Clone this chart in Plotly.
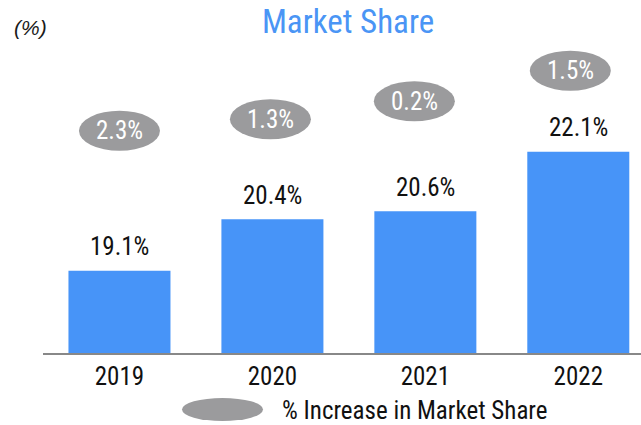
import plotly.graph_objects as go

# ---- data ----
years = ["2019", "2020", "2021", "2022"]
market_share = [19.1, 20.4, 20.6, 22.1]
share_increase = [2.3, 1.3, 0.2, 1.5]
value_labels = ["19.1%", "20.4%", "20.6%", "22.1%"]
increase_labels = ["2.3%", "1.3%", "0.2%", "1.5%"]

# ---- layout / style ----
W, H = 641, 425
ML, MR, MT, MB = 43, 0, 0, 72
BAR_COLOR = "#4794F8"
BUBBLE_COLOR = "#9B9B9D"
TITLE_COLOR = "#4A95F5"
NARROW = "Liberation Sans Narrow, Arial Narrow, Roboto Condensed, Liberation Sans, sans-serif"
# bubble placement relative to each bar top (pixels)
bubble_dx = [0, -2, -11, -8]
bubble_dy = [140, 100, 110, 81]
BW, BH = 81, 40
LABEL_SHIFT = 22

plot_w = W - ML - MR
plot_h = H - MT - MB


def px_to_paper(px, py):
    return (px - ML) / plot_w, (H - MB - py) / plot_h


fig = go.Figure()
fig.add_trace(go.Bar(
    x=list(range(len(years))), y=market_share, width=0.667,
    marker=dict(color=BAR_COLOR, line=dict(width=0)),
    showlegend=False, hoverinfo="skip",
))

annotations = []
shapes = []
for i, (v, vl, il) in enumerate(zip(market_share, value_labels, increase_labels)):
    annotations.append(dict(
        x=i, y=v, xref="x", yref="y", text=vl, showarrow=False,
        yanchor="middle", yshift=LABEL_SHIFT + 2,
        font=dict(family=NARROW, size=25, color="#111111"),
    ))
    shapes.append(dict(
        type="circle", xref="x", yref="y",
        xsizemode="pixel", ysizemode="pixel",
        xanchor=i, yanchor=v,
        x0=bubble_dx[i] - BW / 2, x1=bubble_dx[i] + BW / 2,
        y0=bubble_dy[i] - BH / 2, y1=bubble_dy[i] + BH / 2,
        fillcolor=BUBBLE_COLOR, line=dict(width=0), layer="above",
    ))
    annotations.append(dict(
        x=i, y=v, xref="x", yref="y", text=il, showarrow=False,
        xshift=bubble_dx[i], yshift=bubble_dy[i],
        yanchor="middle",
        font=dict(family=NARROW, size=25, color="white"),
    ))

# legend (manual, ellipse marker)
lx0, ly0 = px_to_paper(182, 421)
lx1, ly1 = px_to_paper(263, 398)
shapes.append(dict(type="circle", xref="paper", yref="paper",
                   x0=lx0, x1=lx1, y0=ly0, y1=ly1,
                   fillcolor=BUBBLE_COLOR, line=dict(width=0)))
tx, ty = px_to_paper(280, 410)
annotations.append(dict(x=tx, y=ty, xref="paper", yref="paper",
                        text="% Increase in Market Share", showarrow=False,
                        xanchor="left", yanchor="middle",
                        font=dict(family=NARROW, size=25, color="#111111")))
# unit label
ux, uy = px_to_paper(12, 28)
annotations.append(dict(x=ux, y=uy, xref="paper", yref="paper",
                        text="<i>(%)</i>", showarrow=False,
                        xanchor="left", yanchor="middle",
                        font=dict(family="Liberation Sans, Arial, sans-serif", size=21, color="#1a1a1a")))

fig.update_layout(
    width=W, height=H,
    margin=dict(l=ML, r=MR, t=MT, b=MB),
    paper_bgcolor="white", plot_bgcolor="white",
    title=dict(text="Market Share", x=348 / W, xanchor="center",
               y=1 - 21 / H, yanchor="middle", yref="container",
               font=dict(family=NARROW, size=33, color=TITLE_COLOR)),
    xaxis=dict(range=[-0.5, 3.41], tickmode="array",
               tickvals=list(range(len(years))), ticktext=years,
               showline=True, linecolor="#888888", linewidth=2,
               showgrid=False, zeroline=False, ticks="",
               tickfont=dict(family=NARROW, size=25, color="#111111"),
               fixedrange=True),
    yaxis=dict(range=[17.03, 17.03 + plot_h / 39.7], visible=False,
               showgrid=False, zeroline=False, fixedrange=True),
    shapes=shapes, annotations=annotations,
    bargap=0.333, showlegend=False,
)

fig.write_html("out.html", config={"displayModeBar": False},
               post_script="document.body.style.margin='0';document.body.style.overflow='hidden';")
